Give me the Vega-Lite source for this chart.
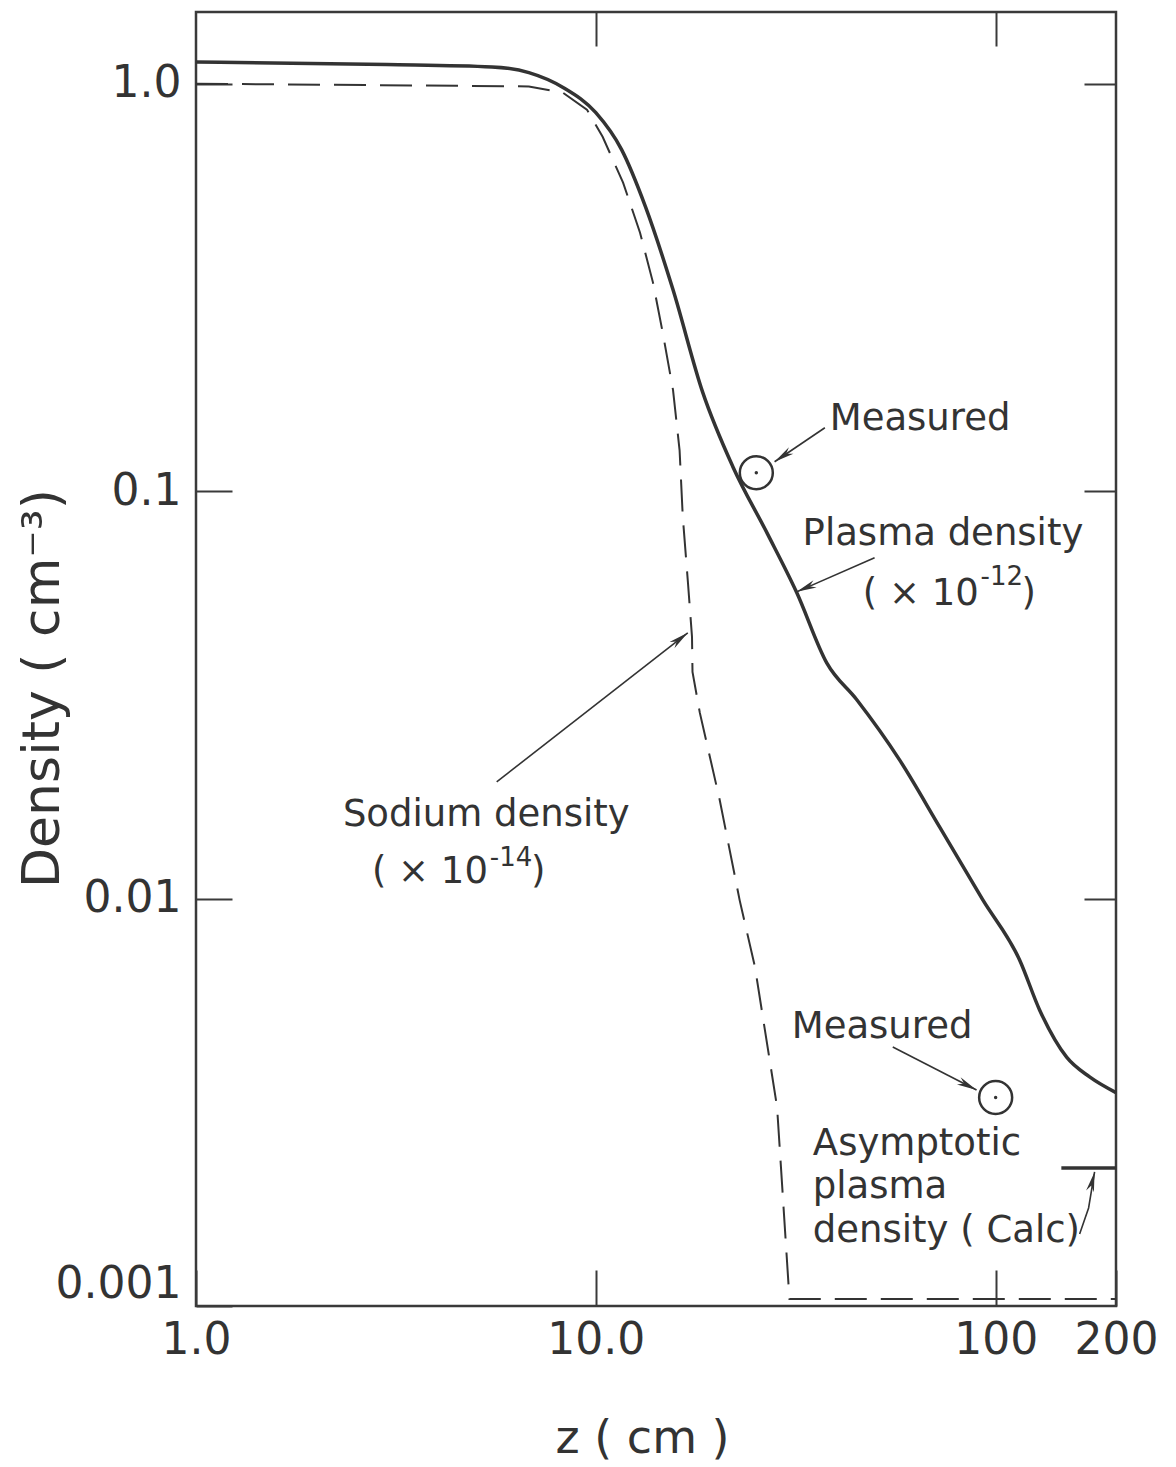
{
  "$schema": "https://vega.github.io/schema/vega-lite/v6.json",
  "width": 920,
  "height": 1294,
  "autosize": {"type": "none"},
  "padding": {"left": 196, "top": 12, "right": 60, "bottom": 161},
  "background": "white",
  "config": {
    "view": {"stroke": "#3a3a3a", "strokeWidth": 2.5},
    "axis": {
      "grid": false,
      "domain": false,
      "labelFont": "DejaVu Sans",
      "titleFont": "DejaVu Sans",
      "labelColor": "#333333",
      "titleColor": "#333333",
      "titleFontWeight": "normal",
      "tickColor": "#3a3a3a",
      "tickWidth": 2,
      "labelOverlap": false,
      "labelBound": false
    },
    "text": {"font": "DejaVu Sans"}
  },
  "datasets": {
    "plasma": [
      {"z": 1.0, "v": 1.13},
      {"z": 3.0, "v": 1.115},
      {"z": 5.5, "v": 1.10},
      {"z": 6.8, "v": 1.065},
      {"z": 8.3, "v": 0.978},
      {"z": 10.0, "v": 0.849},
      {"z": 11.6, "v": 0.689},
      {"z": 13.3, "v": 0.50},
      {"z": 15.6, "v": 0.312},
      {"z": 18.5, "v": 0.175},
      {"z": 22.0, "v": 0.115},
      {"z": 26.8, "v": 0.079},
      {"z": 31.8, "v": 0.0564},
      {"z": 37.8, "v": 0.0379},
      {"z": 44.9, "v": 0.0308},
      {"z": 57.5, "v": 0.0219},
      {"z": 72.4, "v": 0.0150},
      {"z": 92.8, "v": 0.00994},
      {"z": 114.8, "v": 0.00707},
      {"z": 128.8, "v": 0.00533},
      {"z": 150.5, "v": 0.00408},
      {"z": 171.8, "v": 0.00365},
      {"z": 200, "v": 0.00334}
    ],
    "sodium": [
      {"z": 1.0, "v": 1.0},
      {"z": 6.8, "v": 0.985},
      {"z": 8.28, "v": 0.95},
      {"z": 9.5, "v": 0.864},
      {"z": 10.4, "v": 0.741},
      {"z": 11.7, "v": 0.572},
      {"z": 12.9, "v": 0.431},
      {"z": 13.9, "v": 0.325},
      {"z": 14.7, "v": 0.245},
      {"z": 15.6, "v": 0.177},
      {"z": 16.2, "v": 0.126},
      {"z": 16.5, "v": 0.0866},
      {"z": 17.0, "v": 0.0596},
      {"z": 17.4, "v": 0.0439},
      {"z": 17.45, "v": 0.036},
      {"z": 18.2, "v": 0.0286},
      {"z": 20.4, "v": 0.0175},
      {"z": 22.9, "v": 0.0099},
      {"z": 25.0, "v": 0.0068},
      {"z": 28.4, "v": 0.00308},
      {"z": 29.4, "v": 0.00182},
      {"z": 30.5, "v": 0.00104},
      {"z": 200, "v": 0.00104}
    ],
    "asymptote": [
      {"z": 146, "v": 0.00218},
      {"z": 200, "v": 0.00218}
    ],
    "measured": [
      {"z": 25.2, "v": 0.111},
      {"z": 100, "v": 0.00325}
    ],
    "arrows": [
      {"id": "a1", "k": 0, "z": 37.4, "v": 0.1431},
      {"id": "a1", "k": 1, "z": 28.0, "v": 0.1181},
      {"id": "a2", "k": 0, "z": 49.8, "v": 0.0686},
      {"id": "a2", "k": 1, "z": 31.8, "v": 0.0566},
      {"id": "a3", "k": 0, "z": 5.65, "v": 0.01934},
      {"id": "a3", "k": 1, "z": 16.98, "v": 0.0449},
      {"id": "a4", "k": 0, "z": 55.3, "v": 0.004324},
      {"id": "a4", "k": 1, "z": 89.6, "v": 0.003391},
      {"id": "a5", "k": 0, "z": 162.2, "v": 0.001502},
      {"id": "a5", "k": 1, "z": 170.8, "v": 0.00174},
      {"id": "a5", "k": 2, "z": 176.8, "v": 0.002133}
    ],
    "heads": [
      {"id": "a1", "z": 28.0, "v": 0.1181},
      {"id": "a2", "z": 31.8, "v": 0.0566},
      {"id": "a3", "z": 16.98, "v": 0.0449},
      {"id": "a4", "z": 89.6, "v": 0.003391},
      {"id": "a5", "z": 176.8, "v": 0.002133}
    ],
    "labels": [
      {"text": "Measured", "z": 38.46, "v": 0.1415},
      {"text": "Plasma density", "z": 32.9, "v": 0.0738},
      {"text": "( × 10", "z": 46.5, "v": 0.0526},
      {"text": ")", "z": 116.1, "v": 0.0526},
      {"text": "Sodium density", "z": 2.33, "v": 0.01509},
      {"text": "( × 10", "z": 2.754, "v": 0.01093},
      {"text": ")", "z": 6.88, "v": 0.01093},
      {"text": "Measured", "z": 30.9, "v": 0.00455},
      {"text": "Asymptotic", "z": 34.9, "v": 0.002348},
      {"text": "plasma", "z": 34.9, "v": 0.001841},
      {"text": "density ( Calc)", "z": 34.9, "v": 0.001436}
    ],
    "exponents": [
      {"text": "-12", "z": 91.7, "v": 0.0589},
      {"text": "-14", "z": 5.43, "v": 0.01203}
    ]
  },
  "encoding": {
    "x": {"field": "z", "type": "quantitative", "scale": {"type": "log", "domain": [1, 200], "nice": false}, "axis": null},
    "y": {"field": "v", "type": "quantitative", "scale": {"type": "log", "domain": [0.001, 1.5], "nice": false}, "axis": null}
  },
  "layer": [
    {
      "data": {"name": "plasma"},
      "mark": {"type": "line", "color": "#333333", "strokeWidth": 3.5, "interpolate": "monotone"},
      "encoding": {
        "x": {
          "field": "z", "type": "quantitative",
          "scale": {"type": "log", "domain": [1, 200], "nice": false},
          "axis": {
            "orient": "bottom",
            "values": [1, 10, 100, 200],
            "labelExpr": "datum.value == 1 ? '1.0' : datum.value == 10 ? '10.0' : datum.value == 100 ? '100' : '200'",
            "labelFontSize": 44,
            "labelFlush": false,
            "labelAlign": "center",
            "tickSize": -36,
            "labelPadding": 48,
            "title": "z ( cm )",
            "titleFontSize": 46,
            "titleX": 446,
            "titleY": 146,
            "titleAlign": "center",
            "titleBaseline": "alphabetic"
          }
        },
        "y": {
          "field": "v", "type": "quantitative",
          "scale": {"type": "log", "domain": [0.001, 1.5], "nice": false},
          "axis": {
            "orient": "left",
            "values": [0.001, 0.01, 0.1, 1],
            "labelExpr": "datum.value > 0.5 ? '1.0' : datum.value > 0.05 ? '0.1' : datum.value > 0.005 ? '0.01' : '0.001'",
            "labelFontSize": 44,
            "labelFlush": true,
            "tickSize": -36,
            "labelPadding": 51,
            "title": "Density ( cm⁻³)",
            "titleFontSize": 52,
            "titleAngle": -90,
            "titleX": -138,
            "titleY": 676,
            "titleAlign": "center",
            "titleBaseline": "alphabetic"
          }
        }
      }
    },
    {
      "data": {"name": "sodium"},
      "mark": {"type": "line", "color": "#333333", "strokeWidth": 2, "strokeDash": [32, 14]},
      "encoding": {
        "x": {
          "field": "z", "type": "quantitative",
          "scale": {"type": "log", "domain": [1, 200], "nice": false},
          "axis": {"orient": "top", "values": [10, 100], "labels": false, "tickSize": -34, "title": null}
        },
        "y": {
          "field": "v", "type": "quantitative",
          "scale": {"type": "log", "domain": [0.001, 1.5], "nice": false},
          "axis": {"orient": "right", "values": [0.01, 0.1, 1], "labels": false, "tickSize": -32, "title": null}
        }
      }
    },
    {
      "data": {"name": "asymptote"},
      "mark": {"type": "line", "color": "#333333", "strokeWidth": 3.5}
    },
    {
      "data": {"name": "measured"},
      "mark": {"type": "point", "shape": "circle", "filled": false, "size": 1089, "strokeWidth": 2.5, "color": "#333333", "opacity": 1}
    },
    {
      "data": {"name": "measured"},
      "mark": {"type": "point", "shape": "circle", "filled": true, "size": 12, "color": "#333333", "opacity": 1}
    },
    {
      "data": {"name": "arrows"},
      "mark": {"type": "line", "color": "#333333", "strokeWidth": 1.6},
      "encoding": {
        "detail": {"field": "id", "type": "nominal"},
        "order": {"field": "k", "type": "quantitative"}
      }
    },
    {
      "data": {"name": "heads"},
      "transform": [{"filter": "datum.id == 'a1'"}],
      "mark": {"type": "point", "shape": "M0,0 L-2,-0.4 L-1.4,0 L-2,0.4 Z", "filled": true, "size": 400, "angle": 145.8, "color": "#333333", "opacity": 1}
    },
    {
      "data": {"name": "heads"},
      "transform": [{"filter": "datum.id == 'a2'"}],
      "mark": {"type": "point", "shape": "M0,0 L-2,-0.4 L-1.4,0 L-2,0.4 Z", "filled": true, "size": 400, "angle": 156.5, "color": "#333333", "opacity": 1}
    },
    {
      "data": {"name": "heads"},
      "transform": [{"filter": "datum.id == 'a3'"}],
      "mark": {"type": "point", "shape": "M0,0 L-2,-0.4 L-1.4,0 L-2,0.4 Z", "filled": true, "size": 400, "angle": -38, "color": "#333333", "opacity": 1}
    },
    {
      "data": {"name": "heads"},
      "transform": [{"filter": "datum.id == 'a4'"}],
      "mark": {"type": "point", "shape": "M0,0 L-2,-0.4 L-1.4,0 L-2,0.4 Z", "filled": true, "size": 400, "angle": 27.1, "color": "#333333", "opacity": 1}
    },
    {
      "data": {"name": "heads"},
      "transform": [{"filter": "datum.id == 'a5'"}],
      "mark": {"type": "point", "shape": "M0,0 L-2,-0.4 L-1.4,0 L-2,0.4 Z", "filled": true, "size": 400, "angle": -76.7, "color": "#333333", "opacity": 1}
    },
    {
      "data": {"name": "labels"},
      "mark": {"type": "text", "align": "left", "baseline": "alphabetic", "fontSize": 37, "color": "#333333"},
      "encoding": {
        "text": {"field": "text", "type": "nominal"}
      }
    },
    {
      "data": {"name": "exponents"},
      "mark": {"type": "text", "align": "left", "baseline": "alphabetic", "fontSize": 26, "color": "#333333"},
      "encoding": {
        "text": {"field": "text", "type": "nominal"}
      }
    }
  ],
  "resolve": {"axis": {"x": "independent", "y": "independent"}}
}
